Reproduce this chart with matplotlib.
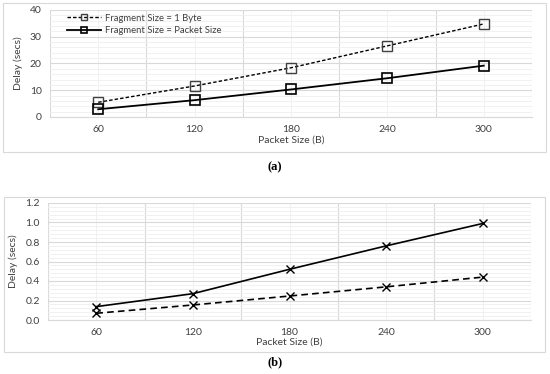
import matplotlib
matplotlib.use("Agg")
import matplotlib.pyplot as plt
from matplotlib.patches import Rectangle
from matplotlib.ticker import MultipleLocator

# data
packet_sizes = ["60", "120", "180", "240", "300"]
delay_1byte = [5.5, 11.6, 18.4, 26.6, 34.8]
delay_packet = [2.9, 6.3, 10.3, 14.5, 19.2]
delay_b_solid = [0.137, 0.27, 0.52, 0.76, 0.99]
delay_b_dashed = [0.069, 0.154, 0.246, 0.34, 0.44]

plt.rcParams['font.family'] = ['Lato', 'DejaVu Sans']
W, H = 550, 374
fig = plt.figure(figsize=(W / 100, H / 100), dpi=100)
FS = 7.5


def px(l, t, r, b):
    return [l / W, 1 - b / H, (r - l) / W, (b - t) / H]


def box(l, t, r, b):
    fig.patches.append(Rectangle((l / W, 1 - b / H), (r - l) / W, (b - t) / H,
                                 transform=fig.transFigure, fill=False,
                                 edgecolor='#d9d9d9', linewidth=0.8))


def style_axes(ax, ymax, major, minor, fmt):
    x = [i + 0.5 for i in range(len(packet_sizes))]
    ax.set_xlim(0, len(packet_sizes))
    ax.set_ylim(0, ymax)
    ax.set_xticks(x)
    ax.set_xticklabels(packet_sizes)
    ax.yaxis.set_major_locator(MultipleLocator(major))
    ax.yaxis.set_minor_locator(MultipleLocator(minor))
    ax.yaxis.set_major_formatter(fmt)
    # vertical grid: boundaries stronger, centres faint
    for v in range(len(packet_sizes) + 1):
        ax.axvline(v, color='#d9d9d9', linewidth=0.8, zorder=0)
    for v in x:
        ax.axvline(v, color='#efefef', linewidth=0.6, zorder=0)
    ax.grid(True, axis='y', which='major', color='#d9d9d9', linewidth=0.8, zorder=0)
    ax.grid(True, axis='y', which='minor', color='#efefef', linewidth=0.6, zorder=0)
    for s in ax.spines.values():
        s.set_visible(False)
    ax.spines['bottom'].set_visible(True)
    ax.spines['bottom'].set_color('#d9d9d9')
    ax.tick_params(which='both', length=0, labelsize=FS, colors='#404040')
    ax.tick_params(axis='x', pad=6)
    ax.tick_params(axis='y', pad=6)
    ax.set_xlabel('Packet Size (B)', fontsize=FS, color='#404040', labelpad=1)
    ax.set_ylabel('Delay (secs)', fontsize=FS, color='#404040', labelpad=5)
    ax.set_axisbelow(True)
    return x


# (a)
box(3, 3, 546, 152)
ax1 = fig.add_axes(px(50, 10, 532, 117))
x = style_axes(ax1, 40, 10, 2, '{x:.0f}')
ax1.plot(x, delay_1byte, color='black', linestyle=(0, (2.5, 1.5)), linewidth=1,
         marker='s', markersize=7.5, markerfacecolor='none', markeredgecolor='#404040',
         markeredgewidth=1, label='Fragment Size = 1 Byte')
ax1.plot(x, delay_packet, color='black', linestyle='-', linewidth=1.3,
         marker='s', markersize=7.5, markerfacecolor='none', markeredgecolor='black',
         markeredgewidth=1.2, label='Fragment Size = Packet Size')
leg = ax1.legend(loc='upper left', bbox_to_anchor=(0.027, 1.0), frameon=False,
                 fontsize=6.8, handlelength=3.6, handletextpad=0.4, labelspacing=0.35,
                 markerscale=0.6, borderaxespad=0)
for t in leg.get_texts():
    t.set_color('#404040')
fig.text(0.5, 1 - 167 / H, '(a)', ha='center', va='center', fontsize=9,
         fontweight='bold', family='Liberation Serif')

# (b)
box(4, 197, 545, 352)
ax2 = fig.add_axes(px(48, 203, 531, 320))
x = style_axes(ax2, 1.2, 0.2, 0.04, '{x:.1f}')
ax2.xaxis.labelpad = 0
ax2.plot(x, delay_b_solid, color='black', linestyle='-', linewidth=1.2,
         marker='x', markersize=6, markeredgewidth=1)
ax2.plot(x, delay_b_dashed, color='black', linestyle=(0, (4, 2.5)), linewidth=1.2,
         marker='x', markersize=6, markeredgewidth=1)
fig.text(0.5, 1 - 362 / H, '(b)', ha='center', va='center', fontsize=9,
         fontweight='bold', family='Liberation Serif')

fig.savefig('out.png', dpi=100)
